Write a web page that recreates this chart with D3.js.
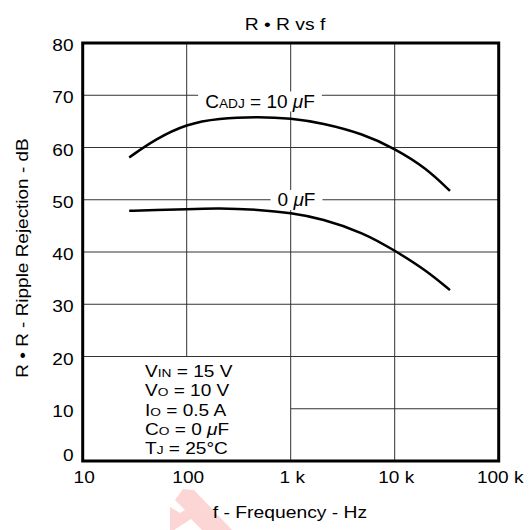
<!DOCTYPE html>
<html><head><meta charset="utf-8">
<script src="https://cdn.jsdelivr.net/npm/d3@7"></script>
<style>html,body{margin:0;padding:0;background:#fff;} svg{display:block;font-family:"Liberation Sans",Arial,sans-serif;}</style>
</head><body>
<svg id="c" width="532" height="530"></svg>
<script>
// ---- data ----
const title = "R \u2022 R vs f";
const xLabel = "f - Frequency - Hz";
const yLabel = "R \u2022 R - Ripple Rejection - dB";
const xTicks = [10, 100, 1000, 10000, 100000];
const xTickLabels = ["10", "100", "1 k", "10 k", "100 k"];
const yTicks = [0, 10, 20, 30, 40, 50, 60, 70, 80];
const freqs = [28, 50, 100, 200, 500, 1000, 2000, 5000, 10000, 20000, 34000];
const rr10uF = [58.1, 61.6, 64.5, 65.6, 65.9, 65.6, 64.7, 62.6, 59.8, 56.1, 51.7];
const rr0uF  = [47.9, 48.0, 48.2, 48.4, 48.1, 47.5, 46.4, 43.7, 40.3, 36.5, 32.7];
const condLines = [
  [["V"],["IN","sub"],[" = 15 V"]],
  [["V"],["O","sub"],[" = 10 V"]],
  [["I"],["O","sub"],[" = 0.5 A"]],
  [["C"],["O","sub"],[" = 0 "],["\u03bc","it"],["F"]],
  [["T"],["J","sub"],[" = 25\u00b0C"]]
];
const label10 = [["C"],["ADJ","sub"],[" = 10 "],["\u03bc","it"],["F"]];
const label0 = [["0 "],["\u03bc","it"],["F"]];

// ---- layout ----
const L = 82.7, R = 498.7, T = 43, B = 461;
const svg = d3.select("#c");
const x = d3.scaleLog().domain([10, 100000]).range([L, R]);
const y = d3.scaleLinear().domain([0, 80]).range([B, T]);
const SX = 1.17;

function rich(g, px, py, parts, size, anchor, sx) {
  const t = g.append("text").attr("font-size", size).attr("fill", "#000")
    .attr("transform", `translate(${px},${py}) scale(${sx||1},1)`);
  parts.forEach(p => {
    const ts = t.append("tspan").text(p[0]);
    if (p[1] === "sub") ts.attr("font-size", size * 0.72);
    if (p[1] === "it") ts.attr("font-style", "italic");
  });
  if (anchor === "middle" || anchor === "end") {
    const w = t.node().getComputedTextLength() * (sx||1);
    const dx = anchor === "middle" ? -w/2 : -w;
    t.attr("transform", `translate(${px+dx},${py}) scale(${sx||1},1)`);
  }
  return t;
}

// grid
const grid = svg.append("g").attr("stroke", "#333").attr("stroke-width", 1).attr("fill", "none");
[100, 1000, 10000].forEach(f => {
  const y0 = f === 100 ? y(20) : B;
  grid.append("line").attr("x1", x(f)).attr("x2", x(f)).attr("y1", T).attr("y2", y0);
});
yTicks.filter(v => v > 0 && v < 80).forEach(v => {
  const x0 = v < 20 ? x(1000) : L;
  grid.append("line").attr("x1", x0).attr("x2", R).attr("y1", y(v)).attr("y2", y(v));
});

// curve labels with white background
function boxedLabel(px, py, parts) {
  const g = svg.append("g");
  const t = rich(g, px, py, parts, 19, "middle", 1);
  const w = t.node().getComputedTextLength();
  g.insert("rect", "text").attr("x", px - w/2 - 7).attr("y", py - 16)
    .attr("width", w + 14).attr("height", 20).attr("fill", "#fff");
}
boxedLabel(260, 107.5, label10);
boxedLabel(296.5, 206, label0);

// curves
const line = d3.line().x(d => x(d[0])).y(d => y(d[1])).curve(d3.curveBasis);
[rr10uF, rr0uF].forEach(s => {
  svg.append("path").datum(freqs.map((f, i) => [f, s[i]])).attr("d", line)
    .attr("fill", "none").attr("stroke", "#000").attr("stroke-width", 2.5);
});

// frame
svg.append("rect").attr("x", L).attr("y", T).attr("width", R - L).attr("height", B - T)
  .attr("fill", "none").attr("stroke", "#000").attr("stroke-width", 3);

// tick labels
const tl = svg.append("g");
xTicks.forEach((f, i) => rich(tl, x(f) + 1.5, 482.5, [[xTickLabels[i]]], 16.3, "middle", SX));
yTicks.forEach(v => rich(tl, 73.5, v === 0 ? 460.5 : y(v) + 8, [[String(v)]], 16.3, "end", SX));

// titles
rich(svg, 285, 30, [[title]], 16.5, "middle", SX);
rich(svg, 290, 518, [[xLabel]], 16.5, "middle", SX);
{
  const g = svg.append("g").attr("transform", "translate(28,258) rotate(-90)");
  rich(g, 0, 0, [[yLabel]], 16.2, "middle", SX);
}

// condition text
condLines.forEach((ln, i) => rich(svg, 145, 376.7 + i * 19.4, ln, 16.3, "start", SX));

// faint watermark arrow
svg.insert("polygon", ":first-child")
  .attr("points", "183,489 194,490 232,530 202,530 191,519 174,530 170,530 170,507 180,513 185,510 175,500")
  .attr("fill", "#fbcaca").attr("opacity", 0.8);
</script>
</body></html>
